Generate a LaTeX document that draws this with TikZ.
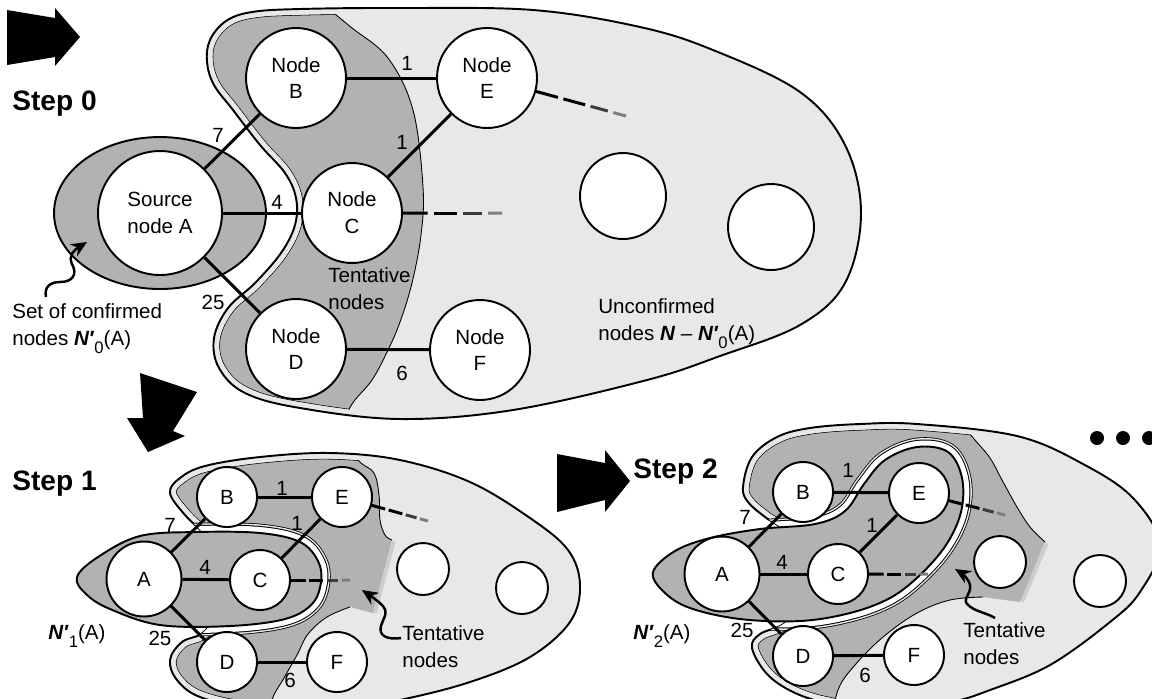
\documentclass[tikz,border=0pt]{standalone}
\usepackage{fontspec}
\setmainfont{Liberation Sans}
\usetikzlibrary{calc,arrows.meta}
\definecolor{lightg}{RGB}{232,232,232}
\definecolor{darkg}{RGB}{178,178,178}
\definecolor{stripg}{RGB}{205,205,205}
\definecolor{tailA}{RGB}{60,60,60}
\definecolor{tailB}{RGB}{125,125,125}
\newcommand{\Nq}[1]{\textbf{\textit{N}}\kern-0.3pt\textbf{\textit{\char"2032}}\raisebox{-0.42em}{\fontsize{9.5}{9.5}\selectfont #1}}
\newcommand{\tailline}[2]{%
  \draw[edge] (#1) -- ($(#1)!0.25!(#2)$);
  \draw[edge] ($(#1)!0.31!(#2)$) -- ($(#1)!0.55!(#2)$);
  \draw[edge,tailA] ($(#1)!0.61!(#2)$) -- ($(#1)!0.80!(#2)$);
  \draw[edge,tailB] ($(#1)!0.86!(#2)$) -- (#2);}
% step 0 shapes
\def\OA{plot[smooth cycle, tension=0.6] coordinates {(207,62) (210,40) (226,21) (252,12) (300,9) (400,8) (533,10) (640,27) (713,50) (800,92) (845,145) (861,213) (845,283) (800,325) (720,356) (647,380) (513,410) (400,419) (300,408) (245,393) (219,368) (214,338) (228,308) (255,283) (281,253) (295,225) (296,198) (285,173) (260,145) (233,110) (214,85)}}
\def\DSA{(0,-20) -- (325,-20) -- plot[smooth, tension=0.6] coordinates {(330,10) (352,28) (388,58) (413,110) (423,187) (421,235) (412,283) (400,322) (388,350) (372,380) (352,404) (340,430)} -- (0,440) -- cycle}
% step 1 shapes
\def\OB{plot[smooth cycle, tension=0.6] coordinates {(170,493) (180,478) (205,466) (260,457) (330,453) (400,460) (470,482) (530,518) (568,550) (580,585) (570,622) (530,657) (470,682) (400,700) (330,712) (250,708) (200,697) (177,680) (170,660) (182,642) (205,631) (222,600) (222,560) (205,535) (185,515)}}
\def\DSB{(0,380) -- (340,380) -- plot[smooth, tension=0.6] coordinates {(342,440) (360,462) (374,473) (379,495) (380,520) (385,535) (392,540)} -- (373,613) -- plot[smooth, tension=0.6] coordinates {(350,607) (327,617) (308,634) (297,655) (284,678) (272,700) (268,730)} -- (0,730) -- cycle}
\def\CB{plot[smooth cycle, tension=0.6] coordinates {(77,577) (98,557) (140,536) (197,532) (260,533) (300,542) (318,561) (321,582) (312,604) (285,619) (230,626) (160,625) (110,609) (86,594)}}
% step 2 shapes
\def\OC{plot[smooth cycle, tension=0.6] coordinates {(743,487) (752,457) (777,437) (810,428) (860,424) (917,424) (1017,436) (1083,464) (1133,498) (1160,545) (1140,592) (1110,622) (1050,665) (990,690) (950,702) (880,710) (827,703) (793,692) (767,674) (752,648) (760,634) (785,623) (800,600) (800,555) (785,531) (765,517) (748,502)}}
\def\DSC{(600,380) -- (955,380) -- plot[smooth, tension=0.6] coordinates {(958,420) (975,440) (990,458) (1002,480) (1017,507) (1030,527) (1045,542)} -- (1020,602) -- plot[smooth, tension=0.6] coordinates {(983,597) (950,600) (917,613) (883,637) (855,665) (838,690) (830,730)} -- (600,730) -- cycle}
\def\CC{plot[smooth cycle, tension=0.6] coordinates {(653,572) (675,551) (710,538) (760,529) (815,524) (845,511) (864,484) (885,460) (917,447) (948,452) (962,478) (961,512) (946,545) (920,575) (890,598) (850,613) (800,621) (740,619) (690,608) (664,592)}}
\tikzset{
  every node/.style={font=\fontsize{11.7}{15.3}\selectfont, inner sep=0pt},
  nd/.style={circle, draw, fill=white, line width=1.1pt, align=center},
  src/.style={nd, minimum size=2.48cm},
  big/.style={nd, minimum size=2cm},
  emp0/.style={nd, minimum size=1.72cm},
  srcs/.style={nd, minimum size=1.5cm},
  sml/.style={nd, minimum size=1.2cm},
  emps/.style={nd, minimum size=1.04cm},
  edge/.style={line width=1.7pt},
  outl/.style={line width=1.1pt},
  thinl/.style={line width=0.5pt},
  steplbl/.style={anchor=base west, font=\fontsize{16}{19}\selectfont\bfseries},
  txt/.style={anchor=north west, align=left},
  squig/.style={line width=1.4pt, -{Stealth[length=9pt, width=8pt]}},
  bigarrow/.style={fill=black}
}
\begin{document}
\begin{tikzpicture}[x=0.02cm, y=-0.02cm]
\useasboundingbox (0,0) rectangle (1152,698);
\clip (0,0) rectangle (1152,698);
% ---------------- Step 0 regions
\fill[lightg] \OA;
\begin{scope}
  \clip \OA;
  \begin{scope}
    \clip \DSA;
    \fill[darkg] (0,-20) rectangle (600,440);
    \draw[black, line width=0.26cm] \OA;
    \draw[lightg, line width=0.228cm] \OA;
  \end{scope}
  \draw[thinl] plot[smooth, tension=0.6] coordinates {(330,10) (352,28) (388,58) (413,110) (423,187) (421,235) (412,283) (400,322) (388,350) (372,380) (352,404) (340,430)};
  \draw[lightg, line width=0.228cm] \OA;
\end{scope}
\draw[outl] \OA;
\draw[outl, fill=darkg] (160,213) ellipse [x radius=2.12cm, y radius=1.52cm];
% ---------------- Step 1 regions
\fill[lightg] \OB;
\begin{scope}
  \clip \OB;
  \begin{scope}
    \clip \DSB;
    \fill[darkg] (0,380) rectangle (600,730);
    \draw[black, line width=0.26cm] \OB;
    \draw[lightg, line width=0.228cm] \OB;
  \end{scope}
  \draw[stripg, line width=2pt] (394,541) -- (375,613);
  \draw[thinl] plot[smooth, tension=0.6] coordinates {(342,440) (360,462) (374,473) (379,495) (380,520) (385,535) (392,540)};
  \draw[thinl] plot[smooth, tension=0.6] coordinates {(350,607) (327,617) (308,634) (297,655) (284,678) (272,700) (268,730)};
  \draw[lightg, line width=0.228cm] \OB;
\end{scope}
\draw[outl] \OB;
\begin{scope}
  \clip \OB;
  \draw[black, line width=0.372cm] \CB;
  \draw[lightg, line width=0.34cm] \CB;
  \draw[black, line width=0.28cm] \CB;
  \draw[white, line width=0.24cm] \CB;
\end{scope}
\draw[outl, fill=darkg] \CB;
% ---------------- Step 2 regions
\fill[lightg] \OC;
\begin{scope}
  \clip \OC;
  \begin{scope}
    \clip \DSC;
    \fill[darkg] (600,380) rectangle (1160,730);
    \draw[black, line width=0.26cm] \OC;
    \draw[lightg, line width=0.228cm] \OC;
  \end{scope}
  \draw[stripg, line width=2pt] (1047,543) -- (1022,602);
  \draw[thinl] plot[smooth, tension=0.6] coordinates {(958,420) (975,440) (990,458) (1002,480) (1017,507) (1030,527) (1045,542)};
  \draw[thinl] plot[smooth, tension=0.6] coordinates {(983,597) (950,600) (917,613) (883,637) (855,665) (838,690) (830,730)};
  \draw[lightg, line width=0.228cm] \OC;
\end{scope}
\draw[outl] \OC;
\begin{scope}
  \clip \OC;
  \draw[black, line width=0.372cm] \CC;
  \draw[lightg, line width=0.34cm] \CC;
  \draw[black, line width=0.28cm] \CC;
  \draw[white, line width=0.24cm] \CC;
\end{scope}
\draw[outl, fill=darkg] \CC;
% ---------------- big arrows and dots
\fill[bigarrow] (7,10) -- (55,18) -- (55,8) -- (80,37) -- (55,66) -- (55,57) -- (7,65) -- cycle;
\fill[bigarrow] (140,373) -- (197,392) -- (173,431) -- (185,436) -- (148,452) -- (127,418) -- (143,418) -- cycle;
\fill[bigarrow] (557,454) -- (605,463) -- (605,450) -- (630,481) -- (605,512) -- (605,500) -- (557,512) -- cycle;
\fill (1097,438) circle [radius=0.14cm];
\fill (1123,438) circle [radius=0.14cm];
\fill (1149,438) circle [radius=0.14cm];
% ---------------- Step 0 nodes
\node[src] (a0) at (160,213) {Source\\node A};
\node[big] (b0) at (296,78) {Node\\B};
\node[big] (c0) at (352,213) {Node\\C};
\node[big] (d0) at (296,349) {Node\\D};
\node[big] (e0) at (487,78) {Node\\E};
\node[big] (f0) at (480,350) {Node\\F};
\node[emp0] (g0) at (623,196) {};
\node[emp0] (h0) at (771,227) {};
\draw[edge] (a0) -- (b0);
\draw[edge] (a0) -- (c0);
\draw[edge] (a0) -- (d0);
\draw[edge] (b0) -- (e0);
\draw[edge] (c0) -- (e0);
\draw[edge] (d0) -- (f0);
\coordinate (c0t) at (502,213);
\coordinate (e0t) at (626,116);
\coordinate (e0s) at ($(e0)!1cm!(e0t)$);
\tailline{c0.east}{c0t}
\tailline{e0s}{e0t}
\node (w0ab) at (218,135) {7};
\node (w0ac) at (277,202) {4};
\node (w0ad) at (213,302) {25};
\node (w0be) at (407,63) {1};
\node (w0ce) at (402,142) {1};
\node (w0df) at (402,373) {6};
\node[steplbl] (st0) at (12,110) {Step 0};
\node[txt] (conf0) at (12,303) {Set of confirmed\\nodes \Nq{0}(A)};
\node[txt] (tent0) at (328,267) {Tentative\\nodes};
\node[txt] (unc0) at (598,298) {Unconfirmed\\nodes \textbf{\textit{N}} – \Nq{0}(A)};
\coordinate (sq0s) at (46,297);
\coordinate (sq0e) at (87,242);
\draw[squig] (sq0s) .. controls (44,287) and (50,282) .. (60,282) .. controls (72,282) and (78,275) .. (72,264) .. controls (68,256) and (74,250) .. (sq0e);
% ---------------- Step 1 nodes
\node[srcs] (a1) at (144,579) {A};
\node[sml] (b1) at (227,497) {B};
\node[sml] (c1) at (260,580) {C};
\node[sml] (d1) at (227,662) {D};
\node[sml] (e1) at (342,497) {E};
\node[sml] (f1) at (337,662) {F};
\node[emps] (g1) at (423,569) {};
\node[emps] (h1) at (522,588) {};
\draw[edge] (a1) -- (b1);
\draw[edge] (a1) -- (c1);
\draw[edge] (a1) -- (d1);
\draw[edge] (b1) -- (e1);
\draw[edge] (c1) -- (e1);
\draw[edge] (d1) -- (f1);
\coordinate (c1t) at (350,580);
\coordinate (e1t) at (428,521);
\coordinate (e1s) at ($(e1)!0.6cm!(e1t)$);
\tailline{c1.east}{c1t}
\tailline{e1s}{e1t}
\node (w1ab) at (170,525) {7};
\node (w1ac) at (205,567) {4};
\node (w1ad) at (160,638) {25};
\node (w1be) at (282,488) {1};
\node (w1ce) at (297,523) {1};
\node (w1df) at (290,680) {6};
\node[steplbl] (st1) at (12,490) {Step 1};
\node (n1) at (77,636) {\Nq{1}(A)};
\node[txt] (tent1) at (402,625) {Tentative\\nodes};
\coordinate (sq1s) at (401,638);
\coordinate (sq1e) at (362,590);
\draw[squig] (sq1s) .. controls (388,640) and (378,636) .. (381,626) .. controls (384,616) and (390,612) .. (380,603) .. controls (374,598) and (368,594) .. (sq1e);
% ---------------- Step 2 nodes
\node[srcs] (a2) at (722,574) {A};
\node[sml] (b2) at (803,492) {B};
\node[sml] (c2) at (838,574) {C};
\node[sml] (d2) at (803,656) {D};
\node[sml] (e2) at (919,493) {E};
\node[sml] (f2) at (914,655) {F};
\node[emps] (g2) at (1000,562) {};
\node[emps] (h2) at (1100,581) {};
\draw[edge] (a2) -- (b2);
\draw[edge] (a2) -- (c2);
\draw[edge] (a2) -- (d2);
\draw[edge] (b2) -- (e2);
\draw[edge] (c2) -- (e2);
\draw[edge] (d2) -- (f2);
\coordinate (c2t) at (928,574);
\coordinate (e2t) at (1005,515);
\coordinate (e2s) at ($(e2)!0.6cm!(e2t)$);
\tailline{c2.east}{c2t}
\tailline{e2s}{e2t}
\node (w2ab) at (745,517) {7};
\node (w2ac) at (782,562) {4};
\node (w2ad) at (742,630) {25};
\node (w2be) at (848,470) {1};
\node (w2ce) at (872,525) {1};
\node (w2df) at (865,675) {6};
\node[steplbl] (st2) at (633,478) {Step 2};
\node (n2) at (662,636) {\Nq{2}(A)};
\node[txt] (tent2) at (963,622) {Tentative\\nodes};
\coordinate (sq2s) at (995,618);
\coordinate (sq2e) at (955,569);
\draw[squig] (sq2s) .. controls (985,612) and (975,612) .. (967,604) .. controls (962,598) and (974,592) .. (969,582) .. controls (966,576) and (960,572) .. (sq2e);
\end{tikzpicture}
\end{document}
